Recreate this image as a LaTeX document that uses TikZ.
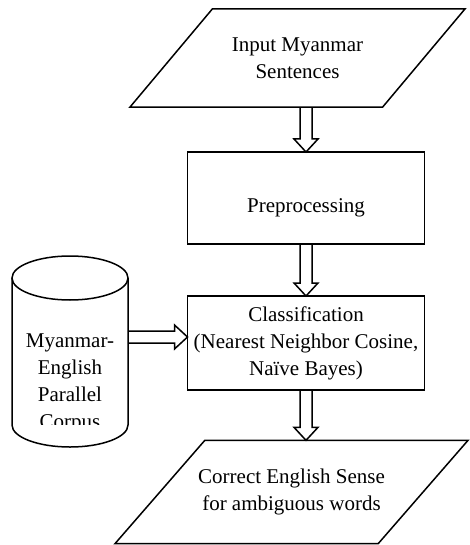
\documentclass[tikz,border=0pt]{standalone}
\usepackage{fontspec}
\setmainfont{Liberation Serif}
\usepackage{tikz}
\usetikzlibrary{calc}
\usetikzlibrary{shapes.geometric}

\tikzset{
	txt/.style={align=center,font=\fontsize{21}{27}\selectfont},
	box/.style={txt,draw,line width=1.5pt,outer sep=0pt},
	io/.style={box,trapezium,trapezium left angle=#1,trapezium right angle=180-#1,trapezium stretches body,inner ysep=28.6pt},
	hollow/.style={draw,line width=1.5pt,to path={
		($(\tikztotarget)!13pt!(\tikztostart)$) coordinate (hd)
		($(\tikztostart)!6pt!90:(\tikztotarget)$) -- ($(hd)!6pt!90:(\tikztotarget)$)
		-- ($(hd)!12pt!90:(\tikztotarget)$) -- (\tikztotarget)
		-- ($(hd)!12pt!-90:(\tikztotarget)$) -- ($(hd)!6pt!-90:(\tikztotarget)$)
		-- ($(\tikztostart)!6pt!-90:(\tikztotarget)$)}}
}

\begin{document}
\begin{tikzpicture}[x=1pt,y=-1pt]
	\useasboundingbox (0,0) rectangle (469,545);
	
	\node [io=50,minimum width=335pt] (inp) at (297.5,58) {Input Myanmar\\Sentences};
	\node [box,minimum width=237pt,minimum height=92pt,text height=28pt,text depth=0pt] (pre) at (306,198) {Preprocessing};
	\node [box,minimum width=237pt,minimum height=94pt] (cls) at (306,343) {Classification\\(Nearest Neighbor Cosine,\\Naïve Bayes)};
	\node [io=49,minimum width=353pt,inner xsep=-8pt] (out) at (291.5,492) {Correct English Sense\\for ambiguous words};
	
	\begin{scope}[line width=1.5pt]
		\draw (12,278) -- (12,425) arc [start angle=180,end angle=0,x radius=58,y radius=22] -- (128,278);
		\draw (70,278) ellipse [x radius=58,y radius=22];
		\clip (12,250) rectangle (128,424);
		\node [txt] (corpus) at (70,383) {Myanmar-\\English\\Parallel\\Corpus};
	\end{scope}
	\coordinate (db) at (128,337);
	
	\foreach \a/\b in {pre.north |- inp.south/pre.north, pre.south/cls.north, cls.south/out.north -| cls.south}
		\draw [hollow] (\a) to (\b);
	\draw [hollow] (db) to (db -| cls.west);
\end{tikzpicture}
\end{document}
